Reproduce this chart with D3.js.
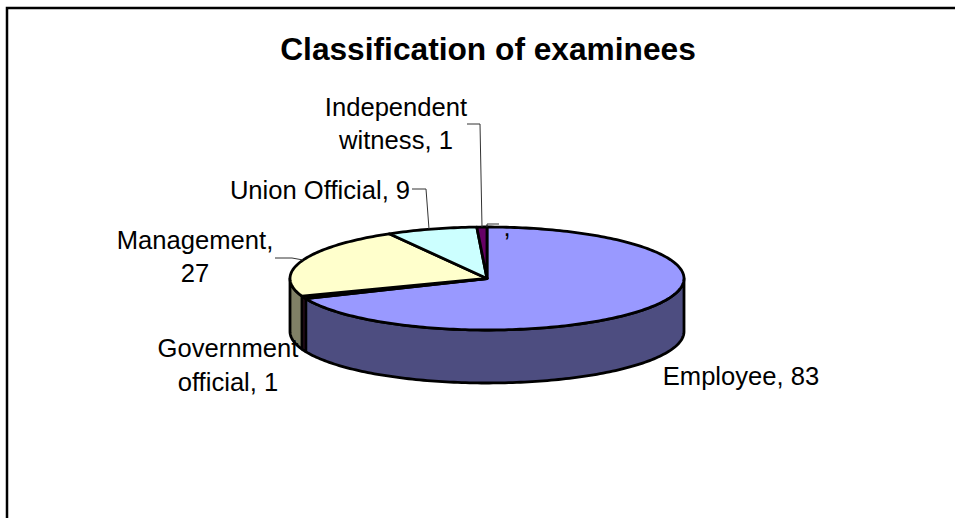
<!DOCTYPE html>
<html lang="en">
  <head>
    <meta charset="UTF-8" />
    <title>Classification of examinees</title>
    <style>
      html, body {
        margin: 0;
        background: #fff;
      }
      svg {
        display: block;
      }
      text {
        font-family: "Liberation Sans", Arial, sans-serif;
        fill: #000;
      }
      .title {
        font-size: 31.7px;
        font-weight: bold;
      }
      .label {
        font-size: 25.6px;
      }
      .leader {
        fill: none;
        stroke: #333;
        stroke-width: 1px;
      }
      .slice {
        stroke: #000;
        stroke-width: 2.8px;
        stroke-linejoin: round;
      }
    </style>
  </head>
  <body>
    <svg width="955" height="518"></svg>

    <script src="https://d3js.org/d3.v7.min.js"></script>
    <script>
      const categories = ["Employee", "Government official", "Management", "Union Official", "Independent witness", ""];
      const values = [83, 1, 27, 9, 1, 0];
      const topColors = ["#9999ff", "#993366", "#ffffcc", "#ccffff", "#660066", "#000000"];
      const sideColors = ["#4d4d80", "#4d1a33", "#808066", "#668080", "#330033", "#000000"];
      const labelLines = [
        ["Employee, 83"],
        ["Government", "official, 1"],
        ["Management,", "27"],
        ["Union Official, 9"],
        ["Independent", "witness, 1"],
        [","],
      ];

      // label layout, one per category
      const labelPos = [
        { x: 741, y: 385, dy: 34 },
        { x: 228, y: 357, dy: 34 },
        { x: 195, y: 249, dy: 33 },
        { x: 320, y: 199, dy: 32 },
        { x: 396, y: 116, dy: 33 },
        { x: 507, y: 236, dy: 0 },
      ];
      const leaders = [
        null,
        null,
        [[275, 258], [292, 258], [303, 260]],
        [[412, 189], [426, 189], [429, 229]],
        [[467, 124], [480, 124], [482, 227]],
        [[499, 224], [487, 224], [487, 227]],
      ];

      const svg = d3.select("svg");

      // fake 3d: unit circle squashed into an ellipse
      const xPos = d3.scaleLinear().domain([-1, 1]).range([290, 684]);
      const yPos = d3.scaleLinear().domain([-1, 1]).range([227, 330]);
      const depth = 53;

      const pie = d3.pie().sort(null).value((d) => d);
      const arcs = pie(values);

      const rim = (t, dz = 0) => [xPos(Math.sin(t)), yPos(-Math.cos(t)) + dz];
      const sweep = (a, b) => {
        const n = Math.max(2, Math.ceil((b - a) / 0.02));
        return d3.range(n + 1).map((i) => a + ((b - a) * i) / n);
      };
      const path = d3.line();

      svg
        .append("path")
        .attr("d", "M7 518V8H955")
        .attr("fill", "none")
        .attr("stroke", "#000")
        .attr("stroke-width", 2.5);

      svg
        .append("text")
        .attr("class", "title")
        .attr("x", 488)
        .attr("y", 60)
        .attr("text-anchor", "middle")
        .text("Classification of examinees");

      // side walls, only the front half of the rim shows
      const front = [Math.PI / 2, (3 * Math.PI) / 2];
      svg
        .append("g")
        .selectAll("path")
        .data(arcs.filter((d) => d.value > 0 && d.endAngle > front[0] && d.startAngle < front[1]))
        .join("path")
        .attr("class", "slice")
        .attr("fill", (d) => sideColors[d.index])
        .attr("d", (d) => {
          const ts = sweep(Math.max(d.startAngle, front[0]), Math.min(d.endAngle, front[1]));
          const pts = ts.map((t) => rim(t)).concat(ts.slice().reverse().map((t) => rim(t, depth)));
          return path(pts) + "Z";
        });

      // top faces
      svg
        .append("g")
        .selectAll("path")
        .data(arcs.filter((d) => d.value > 0))
        .join("path")
        .attr("class", "slice")
        .attr("fill", (d) => topColors[d.index])
        .attr("d", (d) => {
          const pts = sweep(d.startAngle, d.endAngle).map((t) => rim(t));
          return path([[xPos(0), yPos(0)], ...pts]) + "Z";
        });

      svg
        .append("g")
        .selectAll("path")
        .data(leaders.filter((d) => d))
        .join("path")
        .attr("class", "leader")
        .attr("d", path);

      const labels = svg
        .append("g")
        .selectAll("text")
        .data(categories)
        .join("text")
        .attr("class", "label")
        .attr("text-anchor", "middle");

      labels
        .selectAll("tspan")
        .data((d, i) => labelLines[i].map((line, k) => ({ line, k, pos: labelPos[i] })))
        .join("tspan")
        .attr("x", (d) => d.pos.x)
        .attr("y", (d) => d.pos.y + d.k * d.pos.dy)
        .text((d) => d.line);
    </script>
  </body>
</html>
